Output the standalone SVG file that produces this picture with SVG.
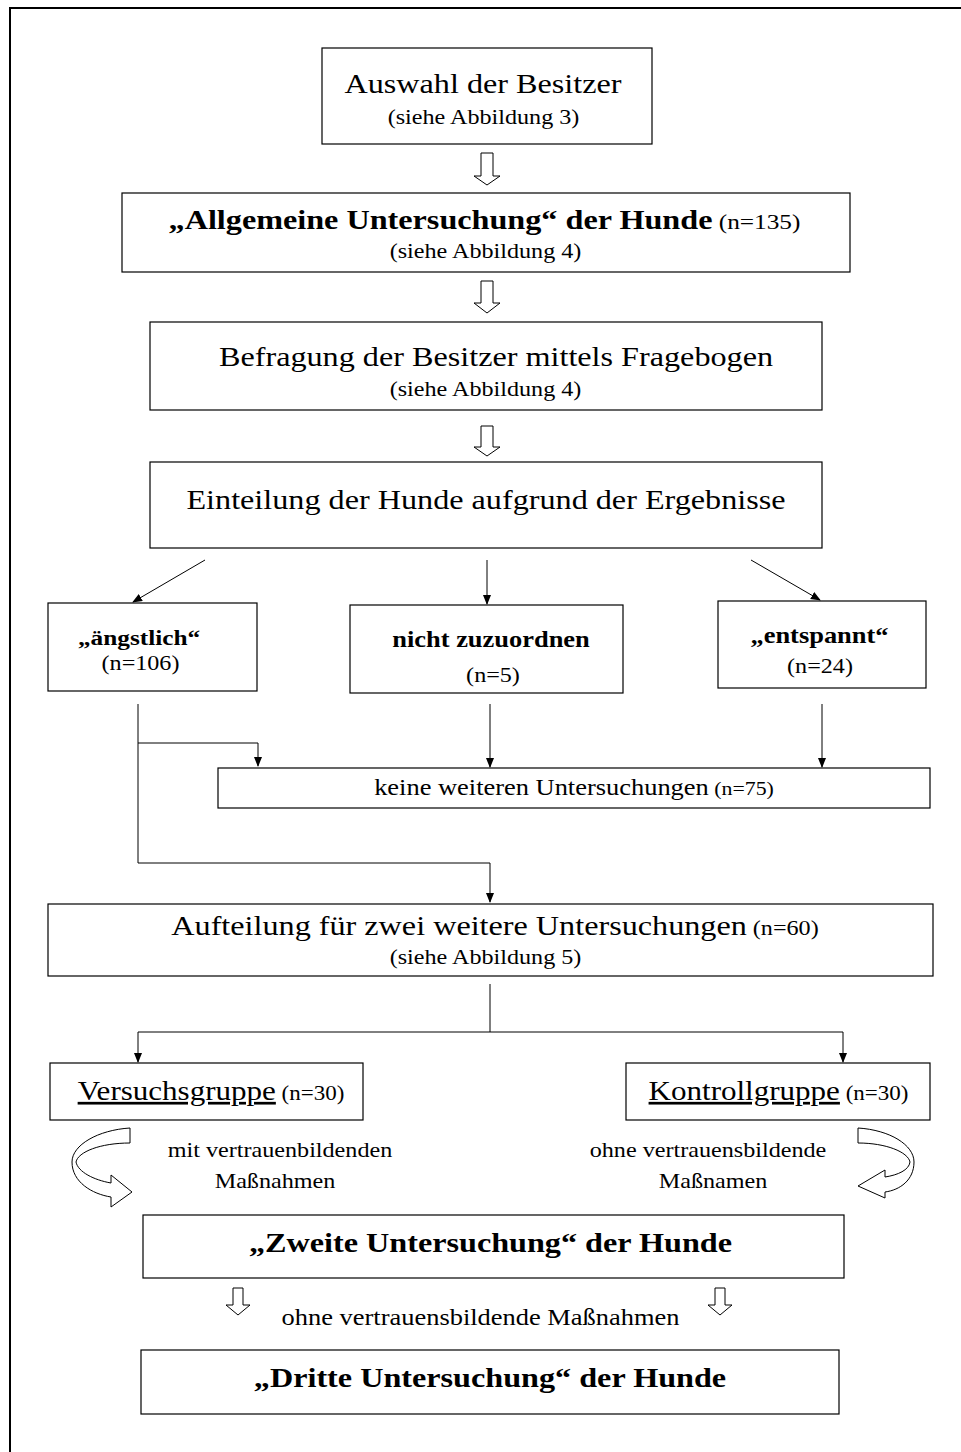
<svg xmlns="http://www.w3.org/2000/svg" width="961" height="1452" viewBox="0 0 961 1452">
<style>
text{font-family:"Liberation Serif","Times New Roman",serif;fill:#000;text-anchor:middle}
.box{fill:#fff;stroke:#000;stroke-width:1.2}
.ln{fill:none;stroke:#000;stroke-width:1}
.hol{fill:#fff;stroke:#000;stroke-width:1}
.b{font-weight:bold}
</style>
<defs>
<marker id="ah" markerWidth="10" markerHeight="10" refX="9" refY="4" orient="auto" markerUnits="userSpaceOnUse">
<path d="M0,0 L10,4 L0,8 Z" fill="#000"/>
</marker>
</defs>
<rect x="10" y="8" width="960" height="1460" fill="none" stroke="#000" stroke-width="2"/>

<g id="connectors">
<path class="hol" d="M481,153 L493,153 L493,176 L500,176 L487,185 L474,176 L481,176 Z"/>
<path class="hol" d="M481,281 L493,281 L493,303 L500,303 L487,313 L474,303 L481,303 Z"/>
<path class="hol" d="M481,426 L493,426 L493,447 L500,447 L487,456 L474,447 L481,447 Z"/>
<line class="ln" x1="205" y1="560" x2="133" y2="602" marker-end="url(#ah)"/>
<line class="ln" x1="487" y1="560" x2="487" y2="604" marker-end="url(#ah)"/>
<line class="ln" x1="751" y1="560" x2="820" y2="600" marker-end="url(#ah)"/>
<path class="ln" d="M138,704 L138,863 L490,863 L490,902" marker-end="url(#ah)"/>
<path class="ln" d="M138,743 L258,743 L258,766" marker-end="url(#ah)"/>
<line class="ln" x1="490" y1="704" x2="490" y2="767" marker-end="url(#ah)"/>
<line class="ln" x1="822" y1="704" x2="822" y2="767" marker-end="url(#ah)"/>
<line class="ln" x1="490" y1="984" x2="490" y2="1032"/>
<path class="ln" d="M138,1032 L843,1032 L843,1062" marker-end="url(#ah)"/>
<path class="ln" d="M138,1032 L138,1062" marker-end="url(#ah)"/>
<path class="hol" d="M130,1128 C98,1130 72,1145 72,1162 C72,1182 92,1194 111,1197 L111,1207 L132,1192 L111,1175 L111,1183 C94,1180 78,1172 76,1162 C78,1152 100,1143 130,1143 Z"/>
<path class="hol" d="M858,1128 C890,1130 914,1145 914,1162 C914,1180 900,1190 885,1192 L885,1198 L858,1186 L885,1170 L885,1177 C898,1175 909,1170 910,1162 C908,1152 886,1143 858,1143 Z"/>
<path class="hol" d="M233,1288 L243,1288 L243,1305 L250,1305 L238,1315 L226,1305 L233,1305 Z"/>
<path class="hol" d="M715,1288 L725,1288 L725,1305 L732,1305 L720,1315 L708,1305 L715,1305 Z"/>
</g>

<g id="n1"><rect class="box" x="322" y="48" width="330" height="96"/>
<text transform="translate(483,93) scale(1.15,1)" font-size="28">Auswahl der Besitzer</text>
<text transform="translate(483.5,124) scale(1.15,1)" font-size="21">(siehe Abbildung 3)</text></g>

<g id="n2"><rect class="box" x="122" y="193" width="728" height="79"/>
<text transform="translate(484.5,229) scale(1.15,1)"><tspan class="b" font-size="28">„Allgemeine Untersuchung“ der Hunde</tspan><tspan font-size="22"> (n=135)</tspan></text>
<text transform="translate(485.5,258) scale(1.15,1)" font-size="21">(siehe Abbildung 4)</text></g>

<g id="n3"><rect class="box" x="150" y="322" width="672" height="88"/>
<text transform="translate(496,366) scale(1.15,1)" font-size="28">Befragung der Besitzer mittels Fragebogen</text>
<text transform="translate(485.5,396) scale(1.15,1)" font-size="21">(siehe Abbildung 4)</text></g>

<g id="n4"><rect class="box" x="150" y="462" width="672" height="86"/>
<text transform="translate(486,509) scale(1.15,1)" font-size="28">Einteilung der Hunde aufgrund der Ergebnisse</text></g>

<g id="n5"><rect class="box" x="48" y="603" width="209" height="88"/>
<text transform="translate(139,645) scale(1.15,1)" font-size="22" class="b">„ängstlich“</text>
<text transform="translate(140.5,670) scale(1.15,1)" font-size="21">(n=106)</text></g>

<g id="n6"><rect class="box" x="350" y="605" width="273" height="88"/>
<text transform="translate(491,647) scale(1.15,1)" font-size="23" class="b">nicht zuzuordnen</text>
<text transform="translate(493,682) scale(1.15,1)" font-size="21">(n=5)</text></g>

<g id="n7"><rect class="box" x="718" y="601" width="208" height="87"/>
<text transform="translate(819.5,643) scale(1.15,1)" font-size="23" class="b">„entspannt“</text>
<text transform="translate(820,673) scale(1.15,1)" font-size="21">(n=24)</text></g>

<g id="n8"><rect class="box" x="218" y="768" width="712" height="40"/>
<text transform="translate(574,795) scale(1.15,1)"><tspan font-size="23">keine weiteren Untersuchungen</tspan><tspan font-size="19"> (n=75)</tspan></text></g>

<g id="n9"><rect class="box" x="48" y="904" width="885" height="72"/>
<text transform="translate(495,935) scale(1.15,1)"><tspan font-size="28">Aufteilung für zwei weitere Untersuchungen</tspan><tspan font-size="21"> (n=60)</tspan></text>
<text transform="translate(485.5,964) scale(1.15,1)" font-size="21">(siehe Abbildung 5)</text></g>

<g id="n10"><rect class="box" x="50" y="1063" width="313" height="57"/>
<text transform="translate(211,1100) scale(1.15,1)"><tspan font-size="27" text-decoration="underline">Versuchsgruppe</tspan><tspan font-size="20"> (n=30)</tspan></text></g>

<g id="n11"><rect class="box" x="626" y="1063" width="304" height="57"/>
<text transform="translate(778.5,1100) scale(1.15,1)"><tspan font-size="27" text-decoration="underline">Kontrollgruppe</tspan><tspan font-size="20"> (n=30)</tspan></text></g>

<g id="lbl1"><text transform="translate(280,1157) scale(1.15,1)" font-size="21">mit vertrauenbildenden</text>
<text transform="translate(275,1188) scale(1.15,1)" font-size="21">Maßnahmen</text></g>
<g id="lbl2"><text transform="translate(708,1157) scale(1.15,1)" font-size="21">ohne vertrauensbildende</text>
<text transform="translate(713,1188) scale(1.15,1)" font-size="21">Maßnamen</text></g>

<g id="n12"><rect class="box" x="143" y="1215" width="701" height="63"/>
<text transform="translate(490.5,1252) scale(1.15,1)" font-size="28" class="b">„Zweite Untersuchung“ der Hunde</text></g>

<g id="lbl3"><text transform="translate(480.5,1325) scale(1.15,1)" font-size="23">ohne vertrauensbildende Maßnahmen</text></g>

<g id="n13"><rect class="box" x="141" y="1350" width="698" height="64"/>
<text transform="translate(490,1387) scale(1.15,1)" font-size="28" class="b">„Dritte Untersuchung“ der Hunde</text></g>
</svg>
